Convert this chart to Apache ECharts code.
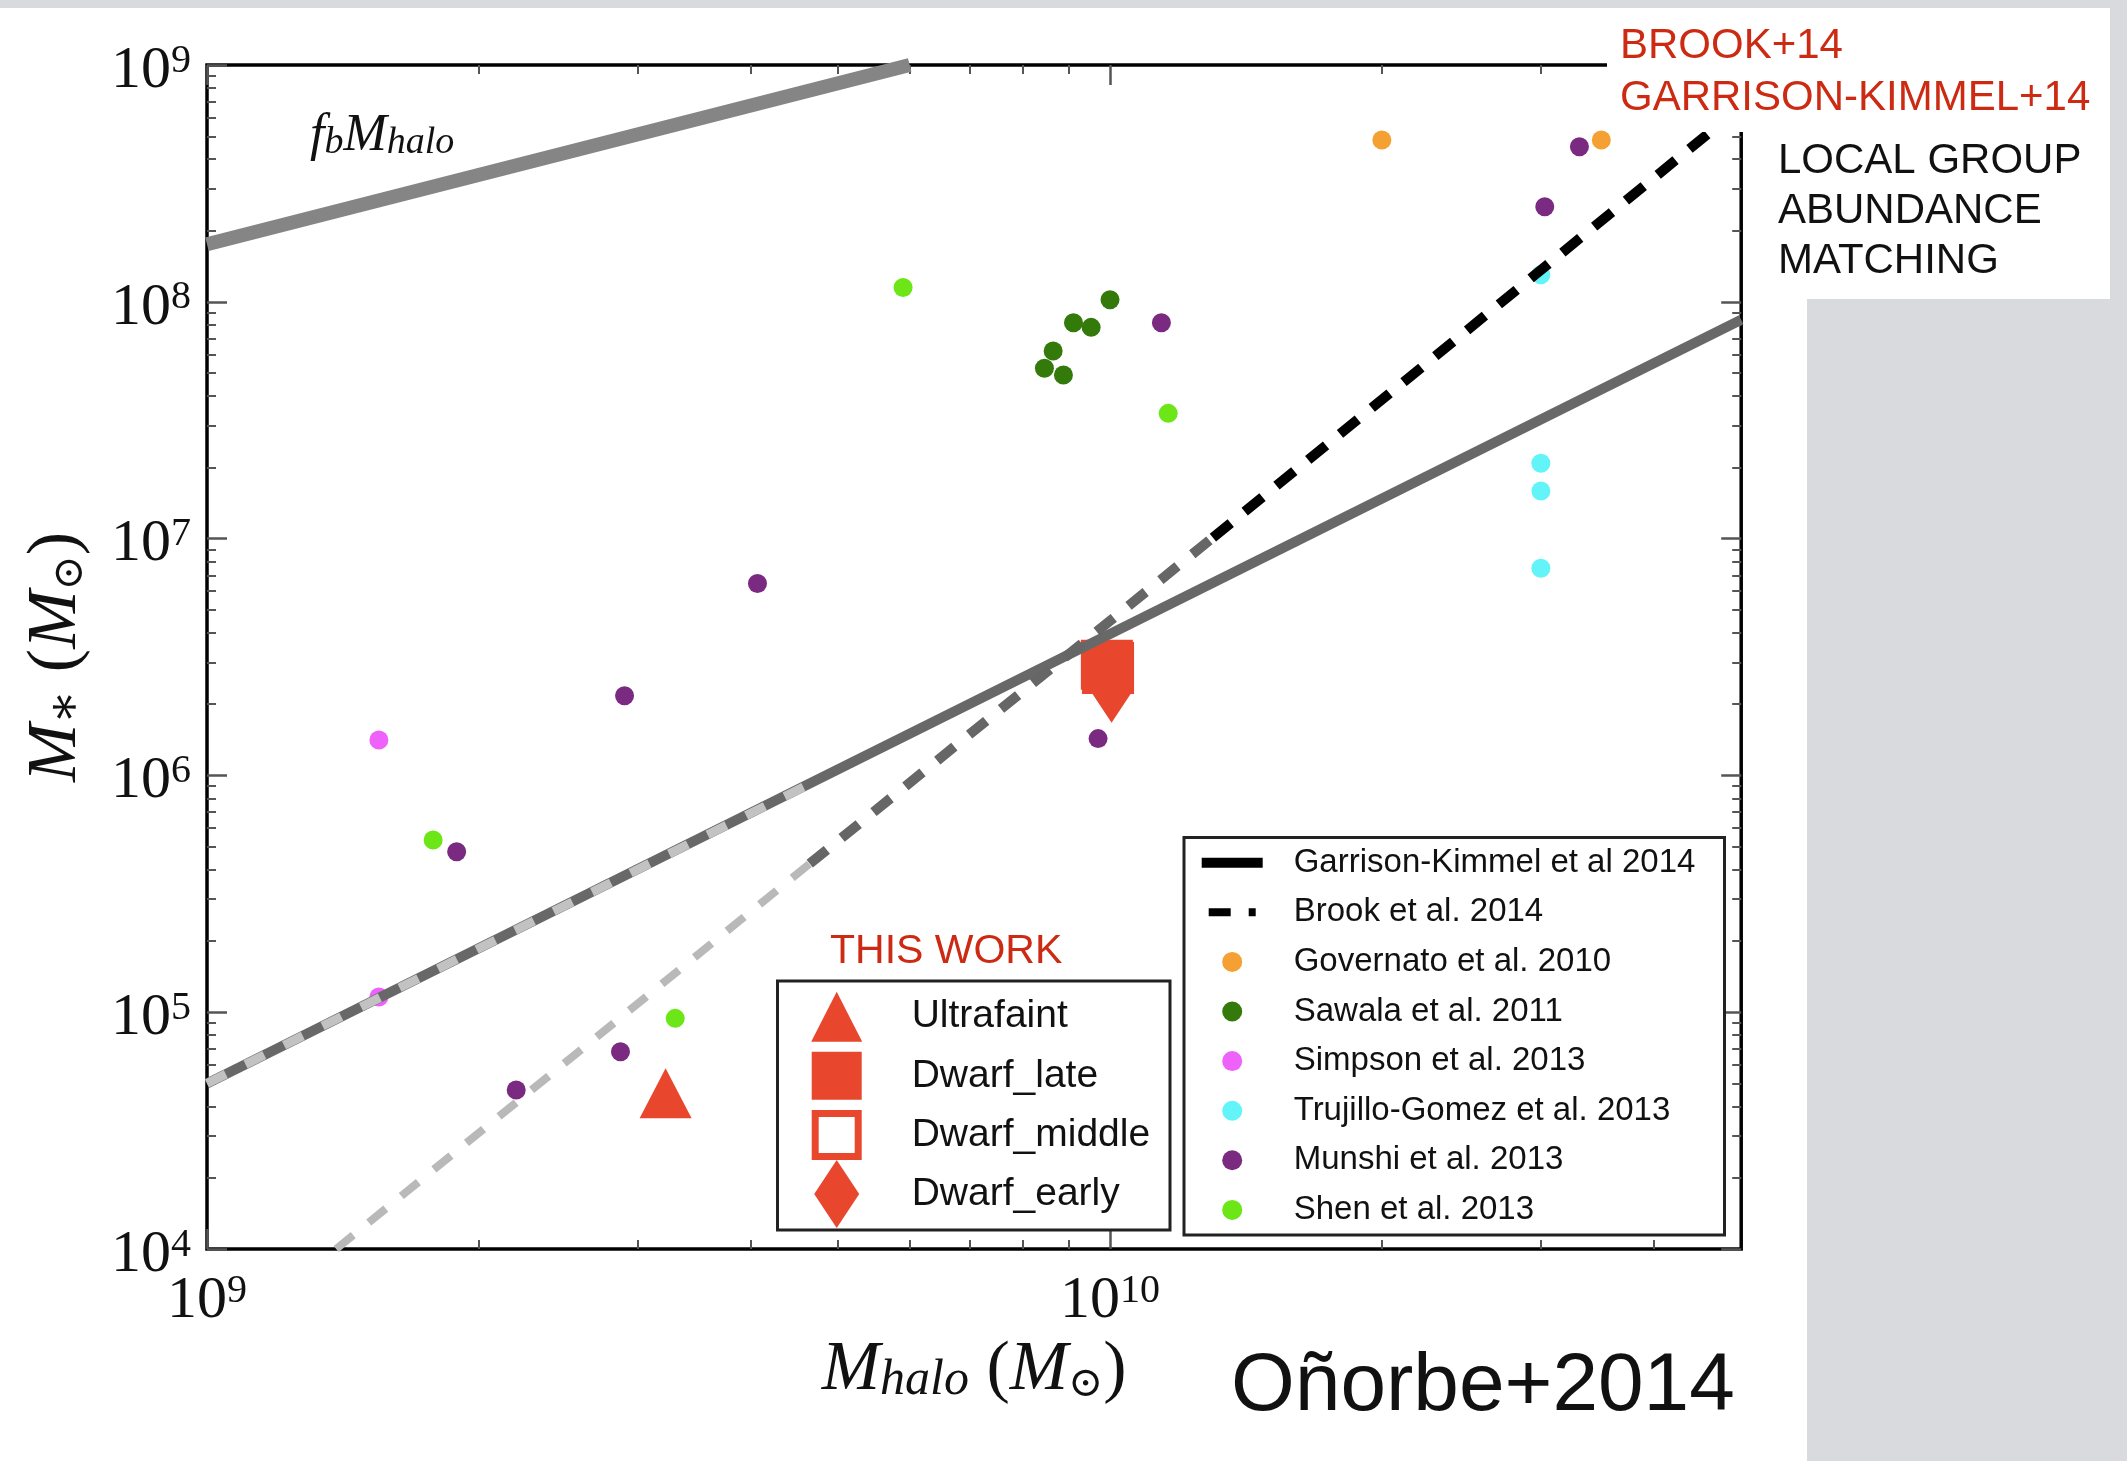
<!DOCTYPE html>
<html>
<head>
<meta charset="utf-8">
<script src="https://cdn.jsdelivr.net/npm/echarts@6/dist/echarts.min.js"></script>
<style>
html,body{margin:0;padding:0;background:#d9dade;}
#c{width:2127px;height:1461px;}
</style>
</head>
<body>
<div id="c"></div>
<script>
// ---------- tick positions ----------
const xMajorTicks = [1e9, 1e10];
const xMinorTicks = [2e9, 3e9, 4e9, 5e9, 6e9, 7e9, 8e9, 9e9, 2e10, 3e10, 4e10];
const yMajorTicks = [1e4, 1e5, 1e6, 1e7, 1e8, 1e9];
const yMinorTicks = [2e4, 3e4, 4e4, 5e4, 6e4, 7e4, 8e4, 9e4,
                     2e5, 3e5, 4e5, 5e5, 6e5, 7e5, 8e5, 9e5,
                     2e6, 3e6, 4e6, 5e6, 6e6, 7e6, 8e6, 9e6,
                     2e7, 3e7, 4e7, 5e7, 6e7, 7e7, 8e7, 9e7,
                     2e8, 3e8, 4e8, 5e8, 6e8, 7e8, 8e8, 9e8];

// ---------- literature points [Mhalo, Mstar] ----------
const governato = [[2.0e10, 4.82e8], [3.50e10, 4.82e8]];
const sawala = [[1.0e10, 1.02e8], [9.11e9, 8.16e7], [9.53e9, 7.80e7], [8.65e9, 6.20e7], [8.46e9, 5.24e7], [8.88e9, 4.91e7]];
const simpson = [[1.55e9, 1.41e6], [1.55e9, 1.16e5]];
const trujillo = [[3.0e10, 1.30e8], [3.0e10, 2.08e7], [3.0e10, 1.59e7], [3.0e10, 7.49e6]];
const munshi = [[2.90e9, 2.17e6], [1.89e9, 4.76e5], [2.87e9, 6.81e4], [2.20e9, 4.69e4], [9.70e9, 1.43e6],
                [1.14e10, 8.16e7], [3.03e10, 2.52e8], [3.31e10, 4.52e8], [4.07e9, 6.46e6]];
const shen = [[1.78e9, 5.34e5], [3.30e9, 9.42e4], [5.90e9, 1.15e8], [1.16e10, 3.38e7]];

// ---------- this work ----------
const ultrafaint = [[3.22e9, 4.55e4]];
const dwarfLate = [[9.92e9, 2.93e6]];
const dwarfMiddle = [[9.95e9, 2.84e6]];
const dwarfEarly = [[1.004e10, 2.32e6]];

// ---------- relations (end points) ----------
const fbLine = [[1e9, 1.75e8], [6.0e9, 1.0e9]];
const gkLine = [[1e9, 5.0e4], [5e10, 8.4e7]];
const gkExtrap = [[1e9, 5.0e4], [4.65e9, 9.2e5]];
const brookLow = [[1.39e9, 1.0e4], [4.65e9, 4.24e5]];
const brookMid = [[4.65e9, 4.24e5], [1.30e10, 1.01e7]];
const brookHigh = [[1.30e10, 1.01e7], [5e10, 6.67e8]];

// ---------- styling ----------
const SERIF = "'Liberation Serif', 'DejaVu Serif', serif";
const SANS = "'Liberation Sans', Arial, sans-serif";
const RED = '#e9462e';
const TXTRED = '#cc2a12';
const INK = '#111111';
const TICK = '#555555';

const tickRich = {
  b: {fontFamily: SERIF, fontSize: 60, lineHeight: 60, color: INK},
  s: {fontFamily: SERIF, fontSize: 40, lineHeight: 30, verticalAlign: 'top', color: INK}
};
function powLabel(v) {
  const e = Math.round(Math.log10(v));
  return '{b|10}{s|' + e + '}';
}
const nameRich = {
  m: {fontFamily: SERIF, fontStyle: 'italic', fontSize: 70, lineHeight: 70, color: INK},
  sub: {fontFamily: SERIF, fontStyle: 'italic', fontSize: 50, lineHeight: 34, verticalAlign: 'bottom', color: INK},
  p: {fontFamily: SERIF, fontSize: 70, lineHeight: 70, color: INK},
  o: {fontFamily: SERIF, fontSize: 42, lineHeight: 34, verticalAlign: 'bottom', color: INK}
};

const xBase = {type: 'log', logBase: 10, min: 1e9, max: 5e10, splitLine: {show: false},
  axisLine: {show: false, onZero: false}};
const yBase = {type: 'log', logBase: 10, min: 1e4, max: 1e9, splitLine: {show: false},
  axisLine: {show: false, onZero: false}};
function majorTick(vals) { return {show: true, inside: true, length: 20, lineStyle: {color: TICK, width: 2.5}, customValues: vals}; }
function minorTick(vals) { return {show: true, inside: true, length: 9, lineStyle: {color: TICK, width: 2}, customValues: vals}; }
function dots(name, data, color) {
  return {name: name, type: 'scatter', data: data, symbolSize: 19, itemStyle: {color: color, opacity: 1}, z: 2};
}

const chart = echarts.init(document.getElementById('c'), null, {renderer: 'canvas'});
const circleIcon = 'path://M0,0M87,20M20.5,10a10,10 0 1,0 20,0a10,10 0 1,0 -20,0Z';

const option = {
  animation: false,
  backgroundColor: 'transparent',
  grid: {left: 207, right: 385.8, top: 65, bottom: 212, show: true, borderColor: '#000', borderWidth: 3.5,
         backgroundColor: 'transparent', containLabel: false},
  xAxis: [
    Object.assign({}, xBase, {position: 'bottom', axisTick: majorTick(xMajorTicks),
      axisLabel: {show: true, customValues: xMajorTicks, formatter: powLabel, rich: tickRich, margin: 22},
      name: '{m|M}{sub|halo}{p| (}{m|M}{o|⊙}{p|)}', nameLocation: 'middle', nameGap: 84,
      nameTextStyle: {rich: nameRich}}),
    Object.assign({}, xBase, {position: 'bottom', axisTick: minorTick(xMinorTicks), axisLabel: {show: false}}),
    Object.assign({}, xBase, {position: 'top', axisTick: majorTick(xMajorTicks), axisLabel: {show: false}}),
    Object.assign({}, xBase, {position: 'top', axisTick: minorTick(xMinorTicks), axisLabel: {show: false}})
  ],
  yAxis: [
    Object.assign({}, yBase, {position: 'left', axisTick: majorTick(yMajorTicks),
      axisLabel: {show: true, customValues: yMajorTicks, formatter: powLabel, rich: tickRich, margin: 16, padding: [12, 0, 0, 0]},
      name: '{m|M}{sub|∗}{p| (}{m|M}{o|⊙}{p|)}', nameLocation: 'middle', nameGap: 115, nameRotate: 90,
      nameTextStyle: {rich: nameRich}}),
    Object.assign({}, yBase, {position: 'left', axisTick: minorTick(yMinorTicks), axisLabel: {show: false}}),
    Object.assign({}, yBase, {position: 'right', axisTick: majorTick(yMajorTicks), axisLabel: {show: false}}),
    Object.assign({}, yBase, {position: 'right', axisTick: minorTick(yMinorTicks), axisLabel: {show: false}})
  ],
  legend: [
    {
      orient: 'vertical', left: 801.7, top: 982.7, padding: 0, itemWidth: 105, itemHeight: 68, itemGap: -8.9,
      selectedMode: false, symbolKeepAspect: true,
      textStyle: {fontFamily: SANS, fontSize: 39, lineHeight: 40, color: INK},
      data: [
        {name: 'Ultrafaint', icon: 'path://M0,0M105,68M35,9L60.5,59L9.5,59Z', itemStyle: {color: RED, borderWidth: 0, opacity: 1}},
        {name: 'Dwarf_late', icon: 'path://M0,0M105,68M10,10h50v48h-50Z', itemStyle: {color: RED, borderWidth: 0, opacity: 1}},
        {name: 'Dwarf_middle', icon: 'path://M0,0M105,68M10,9h50v50h-50ZM17,16v36h36v-36Z', itemStyle: {color: RED, borderWidth: 0, opacity: 1}},
        {name: 'Dwarf_early', icon: 'path://M0,0M105,68M35,0L57.5,34L35,68L12.5,34Z', itemStyle: {color: RED, borderWidth: 0, opacity: 1}}
      ]
    },
    {
      orient: 'vertical', left: 1201.7, top: 845.7, padding: 0, itemWidth: 87, itemHeight: 20, itemGap: 15.6,
      selectedMode: false, symbolKeepAspect: true,
      textStyle: {fontFamily: SANS, fontSize: 33, lineHeight: 34, color: INK},
      data: [
        {name: 'Garrison-Kimmel et al 2014', icon: 'path://M0,0M87,20M0,5h61v10h-61Z', itemStyle: {color: '#000', borderWidth: 0}},
        {name: 'Brook et al. 2014', icon: 'path://M0,0M87,20M7,6h22v8h-22ZM47,6h7v8h-7Z', itemStyle: {color: '#000', borderWidth: 0}},
        {name: 'Governato et al. 2010', icon: circleIcon},
        {name: 'Sawala et al. 2011', icon: circleIcon},
        {name: 'Simpson et al. 2013', icon: circleIcon},
        {name: 'Trujillo-Gomez et al. 2013', icon: circleIcon},
        {name: 'Munshi et al. 2013', icon: circleIcon},
        {name: 'Shen et al. 2013', icon: circleIcon}
      ]
    }
  ],
  series: [
    dots('Governato et al. 2010', governato, '#f5a032'),
    dots('Sawala et al. 2011', sawala, '#347a0a'),
    dots('Simpson et al. 2013', simpson, '#ee62fb'),
    dots('Trujillo-Gomez et al. 2013', trujillo, '#62f4f8'),
    dots('Munshi et al. 2013', munshi, '#7a2a80'),
    dots('Shen et al. 2013', shen, '#6ce616'),
    {name: 'Ultrafaint', type: 'scatter', data: ultrafaint, symbol: 'triangle', symbolSize: [52, 50], itemStyle: {color: RED, opacity: 1}, z: 2},
    {name: 'Dwarf_middle', type: 'scatter', data: dwarfMiddle, symbol: 'rect', symbolSize: [46, 46],
      itemStyle: {color: '#fff', borderColor: RED, borderWidth: 6, opacity: 1}, z: 2},
    {name: 'Dwarf_early', type: 'scatter', data: dwarfEarly, symbol: 'diamond', symbolSize: [45, 68], itemStyle: {color: RED, opacity: 1}, z: 2},
    {name: 'Dwarf_late', type: 'scatter', data: dwarfLate, symbol: 'rect', symbolSize: [52, 50], itemStyle: {color: RED, opacity: 1}, z: 2},

    {name: 'f_b M_halo', type: 'line', data: fbLine, showSymbol: false, symbol: 'none', silent: true, z: 3,
      lineStyle: {color: '#858585', width: 14, cap: 'butt'}},
    {name: 'Garrison-Kimmel et al 2014', type: 'line', data: gkLine, showSymbol: false, symbol: 'none', silent: true, z: 3,
      lineStyle: {color: '#686868', width: 10, cap: 'butt'}},
    {name: 'GK extrapolation', type: 'line', data: gkExtrap, showSymbol: false, symbol: 'none', silent: true, z: 4,
      lineStyle: {color: '#c2c2c2', width: 9, type: [21, 22], cap: 'butt'}},
    {name: 'Brook et al. 2014', type: 'line', data: brookLow, showSymbol: false, symbol: 'none', silent: true, z: 3,
      lineStyle: {color: '#b9b9b9', width: 8, type: [22, 20], cap: 'butt'}},
    {name: 'Brook et al. 2014', type: 'line', data: brookMid, showSymbol: false, symbol: 'none', silent: true, z: 3,
      lineStyle: {color: '#666666', width: 10, type: [22, 19], cap: 'butt'}},
    {name: 'Brook et al. 2014', type: 'line', data: brookHigh, showSymbol: false, symbol: 'none', silent: true, z: 3,
      lineStyle: {color: '#000000', width: 10, type: [23, 18], cap: 'butt'}}
  ],
  graphic: [
    {type: 'rect', z: -100, silent: true, shape: {x: 0, y: 8, width: 1807, height: 1453}, style: {fill: '#ffffff'}},
    {type: 'rect', z: 3, silent: true, shape: {x: 777.5, y: 981, width: 392.5, height: 249}, style: {fill: '#ffffff', stroke: '#222', lineWidth: 3}},
    {type: 'rect', z: 3, silent: true, shape: {x: 1184, y: 837.5, width: 540.5, height: 397.5}, style: {fill: '#ffffff', stroke: '#222', lineWidth: 3}},
    {type: 'rect', z: 100, silent: true, shape: {x: 1607, y: 8, width: 503, height: 124}, style: {fill: '#ffffff'}},
    {type: 'rect', z: 100, silent: true, shape: {x: 1745, y: 131, width: 365, height: 168}, style: {fill: '#ffffff'}},
    {type: 'text', z: 101, silent: true, x: 1620, y: 46,
      style: {text: 'BROOK+14', fontFamily: SANS, fontSize: 42, fill: TXTRED, align: 'left', verticalAlign: 'middle', textAlign: 'left', textVerticalAlign: 'middle'}},
    {type: 'text', z: 101, silent: true, x: 1620, y: 98,
      style: {text: 'GARRISON-KIMMEL+14', fontFamily: SANS, fontSize: 42, fill: TXTRED, align: 'left', verticalAlign: 'middle', textAlign: 'left', textVerticalAlign: 'middle'}},
    {type: 'text', z: 101, silent: true, x: 1778, y: 161,
      style: {text: 'LOCAL GROUP', fontFamily: SANS, fontSize: 42, fill: INK, align: 'left', verticalAlign: 'middle', textAlign: 'left', textVerticalAlign: 'middle'}},
    {type: 'text', z: 101, silent: true, x: 1778, y: 211,
      style: {text: 'ABUNDANCE', fontFamily: SANS, fontSize: 42, fill: INK, align: 'left', verticalAlign: 'middle', textAlign: 'left', textVerticalAlign: 'middle'}},
    {type: 'text', z: 101, silent: true, x: 1778, y: 261,
      style: {text: 'MATCHING', fontFamily: SANS, fontSize: 42, fill: INK, align: 'left', verticalAlign: 'middle', textAlign: 'left', textVerticalAlign: 'middle'}},
    {type: 'text', z: 101, silent: true, x: 830, y: 952,
      style: {text: 'THIS WORK', fontFamily: SANS, fontSize: 41, fill: TXTRED, align: 'left', verticalAlign: 'middle', textAlign: 'left', textVerticalAlign: 'middle'}},
    {type: 'text', z: 101, silent: true, x: 1231, y: 1387,
      style: {text: 'Oñorbe+2014', fontFamily: SANS, fontSize: 82, fill: INK, align: 'left', verticalAlign: 'middle', textAlign: 'left', textVerticalAlign: 'middle'}},
    {type: 'text', z: 101, silent: true, x: 310, y: 136,
      style: {text: '{m|f}{sub|b}{m|M}{sub|halo}', align: 'left', verticalAlign: 'middle', textAlign: 'left', textVerticalAlign: 'middle',
        rich: {
          m: {fontFamily: SERIF, fontStyle: 'italic', fontSize: 52, lineHeight: 52, fill: INK, color: INK},
          sub: {fontFamily: SERIF, fontStyle: 'italic', fontSize: 38, lineHeight: 26, verticalAlign: 'bottom', fill: INK, color: INK}
        }}}
  ]
};
chart.setOption(option);
</script>
</body>
</html>
